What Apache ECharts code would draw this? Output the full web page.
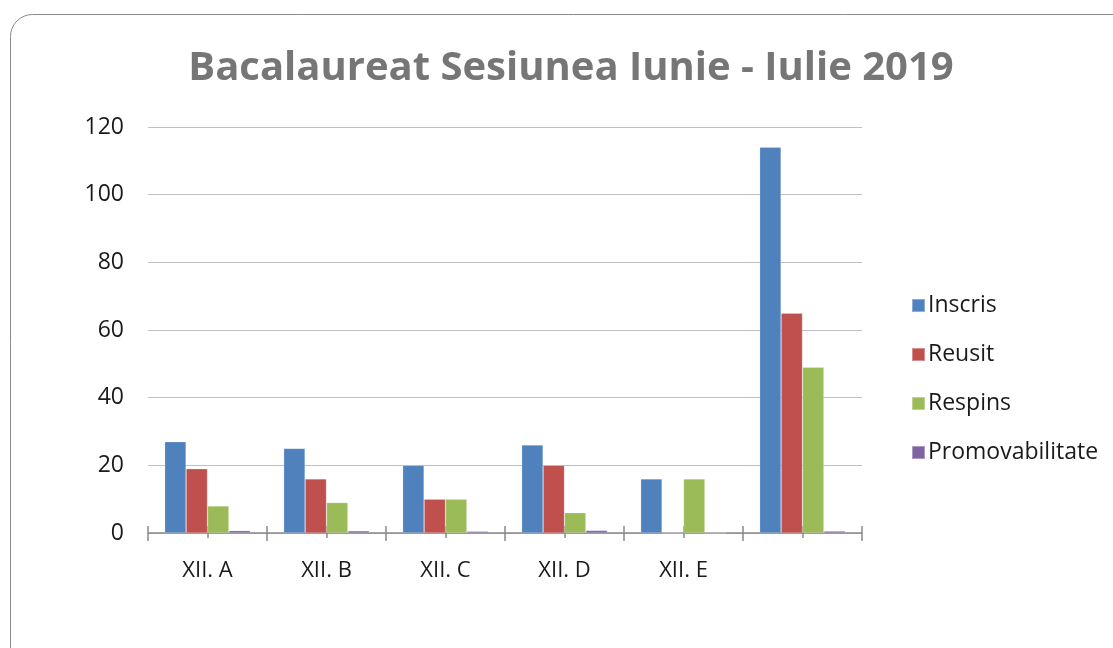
<!DOCTYPE html>
<html>
<head>
<meta charset="utf-8">
<style>
html,body{margin:0;padding:0;background:#fff;}
#chart{width:1113px;height:648px;}
</style>
<script src="https://cdn.jsdelivr.net/npm/echarts@6/dist/echarts.min.js"></script>
</head>
<body>
<div id="chart"></div>
<script>
var categories = ['XII. A', 'XII. B', 'XII. C', 'XII. D', 'XII. E', ''];
var inscris = [27, 25, 20, 26, 16, 114];
var reusit = [19, 16, 10, 20, 0, 65];
var respins = [8, 9, 10, 6, 16, 49];
var promovabilitate = [0.70, 0.64, 0.50, 0.77, 0, 0.57];
var yTicks = [0, 20, 40, 60, 80, 100, 120];
var seriesNames = ['Inscris', 'Reusit', 'Respins', 'Promovabilitate'];
var colors = ['#4F81BD', '#C0504D', '#9BBB59', '#8064A2'];

var halfCats = [];
for (var i = 0; i < categories.length * 2; i++) halfCats.push('');

var chart = echarts.init(document.getElementById('chart'));
var axisGray = '#898989';
var font = "'Open Sans', 'Noto Sans', sans-serif";
var dataSets = [inscris, reusit, respins, promovabilitate];
var series = seriesNames.map(function (n, k) {
  return {
    name: n, type: 'bar', data: dataSets[k],
    xAxisIndex: 0, yAxisIndex: 0,
    barGap: '0%', barCategoryGap: '28%',
    itemStyle: { color: colors[k], borderColor: 'rgba(255,255,255,0.35)', borderWidth: 0.6 }
  };
});

chart.setOption({
  animation: false,
  backgroundColor: '#fff',
  color: colors,
  graphic: [{
    type: 'rect', left: 10, top: 14, silent: true, z: -10,
    shape: { width: 1200, height: 700, r: 22 },
    style: { fill: '#fff', stroke: '#8a8a8a', lineWidth: 1 }
  }],
  title: {
    text: 'Bacalaureat Sesiunea Iunie - Iulie 2019',
    left: 566, top: 44, textAlign: 'center',
    textStyle: { fontFamily: font, fontWeight: 'bold', fontSize: 40, color: '#767676' }
  },
  legend: {
    orient: 'vertical', left: 906, top: 289,
    icon: 'rect', itemWidth: 13, itemHeight: 13, itemGap: 26,
    data: seriesNames,
    textStyle: { fontFamily: font, fontSize: 23, color: '#1a1a1a', padding: [0, 0, 0, -2] }
  },
  grid: { left: 148, right: 251, top: 127, bottom: 115 },
  xAxis: [{
    type: 'category', data: categories,
    axisLine: { lineStyle: { color: axisGray, width: 1.5 } },
    axisTick: { show: true, length: 8, lineStyle: { color: axisGray, width: 1.5 } },
    axisLabel: { fontFamily: font, fontSize: 22, color: '#1a1a1a', margin: 27 },
    splitLine: { show: false }
  }, {
    type: 'category', data: halfCats, position: 'bottom', gridIndex: 0,
    axisLine: { show: false },
    axisTick: { show: true, inside: true, length: 7, lineStyle: { color: axisGray, width: 1.5 } },
    axisLabel: { show: false }
  }, {
    type: 'category', data: halfCats, position: 'bottom', gridIndex: 0,
    axisLine: { show: false },
    axisTick: { show: true, inside: false, length: 5, lineStyle: { color: axisGray, width: 1.5 } },
    axisLabel: { show: false }
  }],
  yAxis: {
    type: 'value', min: 0, max: 120, interval: 20,
    axisLine: { show: false }, axisTick: { show: false },
    axisLabel: { fontFamily: font, fontSize: 23, color: '#1a1a1a', margin: 24 },
    splitLine: { lineStyle: { color: '#c0c0c0', width: 1.2 } }
  },
  series: series
});
</script>
</body>
</html>
